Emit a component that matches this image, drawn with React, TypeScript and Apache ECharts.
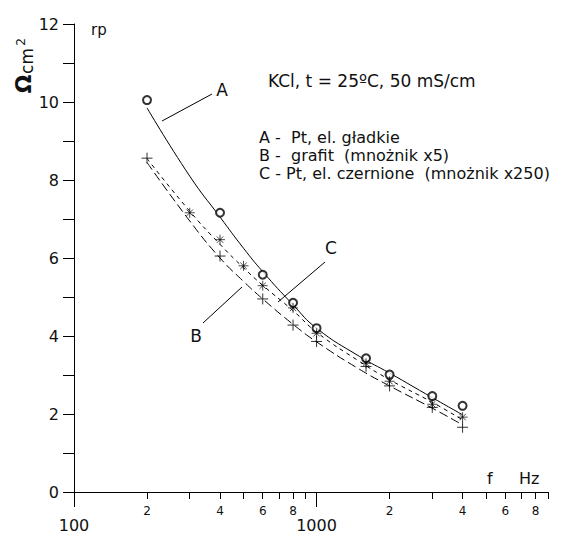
import React, { useEffect, useRef } from "react";
import * as echarts from "echarts";

// Measured points (frequency in Hz, rp in Ω·cm²)
const freqA = [200, 400, 600, 800, 1000, 1600, 2000, 3000, 4000];
const valA = [10.05, 7.16, 5.57, 4.85, 4.2, 3.43, 3.01, 2.46, 2.21];

const freqB = [200, 400, 600, 800, 1000, 1600, 2000, 3000, 4000];
const valB = [8.56, 6.05, 4.95, 4.28, 3.86, 3.22, 2.72, 2.17, 1.66];

const freqC = [300, 400, 500, 600, 800, 1000, 1600, 2000, 3000, 4000];
const valC = [7.16, 6.47, 5.8, 5.29, 4.72, 4.07, 3.3, 2.84, 2.25, 1.92];

// Fitted curves
const curveFreq = [200, 300, 400, 500, 600, 800, 1000, 1500, 2000, 3000, 4000];
const curveA = [9.85, 8.1, 7.05, 6.25, 5.65, 4.8, 4.2, 3.48, 3.05, 2.42, 1.98];
const curveB = [8.45, 6.95, 6.0, 5.4, 4.95, 4.3, 3.85, 3.15, 2.72, 2.15, 1.72];
const curveC = [8.55, 7.2, 6.35, 5.75, 5.3, 4.65, 4.1, 3.35, 2.88, 2.3, 1.85];

// Axis ticks
const xMinFreq = 100;
const xMaxFreq = 9000;
const xTickFreqs = [200, 300, 400, 500, 600, 700, 800, 900, 2000, 3000, 4000, 5000, 6000, 7000, 8000, 9000];
const xSmallLabelFreqs = [200, 400, 600, 800, 2000, 4000, 6000, 8000];
const xDecadeFreqs = [100, 1000];

// Texts
const titleText = "KCl, t = 25ºC, 50 mS/cm";
const legendLines = ["A -  Pt, el. gładkie", "B -  grafit  (mnożnik x5)", "C - Pt, el. czernione  (mnożnik x250)"];

const lg = (v: number) => Math.log10(v);
const pairs = (f: number[], v: number[]) => f.map((x, i) => [lg(x), v[i]]);

const FONT = "DejaVu Sans";
const INK = "#111";

export default function App() {
  const ref = useRef<HTMLDivElement>(null);
  useEffect(() => {
    document.body.style.margin = "0";
    const chart = echarts.init(ref.current!, null, { renderer: "svg" });
    const xBase = {
      type: "value" as const,
      min: lg(xMinFreq),
      max: lg(xMaxFreq),
      splitLine: { show: false },
      position: "bottom" as const,
    };
    const smallDigit = (v: number) => {
      const f = Math.round(Math.pow(10, v));
      const d = Math.pow(10, Math.floor(Math.log10(f) + 1e-9));
      return String(Math.round(f / d));
    };
    chart.setOption({
      animation: false,
      backgroundColor: "#fff",
      grid: { left: 74, right: 38, top: 24, bottom: 34, containLabel: false },
      xAxis: [
        {
          ...xBase,
          axisLine: { show: true, lineStyle: { color: "#000", width: 1 } },
          axisTick: {
            show: true,
            length: 7,
            customValues: xTickFreqs.map(lg),
            lineStyle: { color: "#000" },
          },
          axisLabel: {
            show: true,
            customValues: xSmallLabelFreqs.map(lg),
            formatter: smallDigit,
            fontFamily: FONT,
            fontSize: 12,
            color: INK,
            margin: 13,
          },
        },
        {
          ...xBase,
          axisLine: { show: false },
          axisTick: {
            show: true,
            length: 15,
            customValues: xDecadeFreqs.map(lg),
            lineStyle: { color: "#000" },
          },
          axisLabel: {
            show: true,
            customValues: xDecadeFreqs.map(lg),
            formatter: (v: number) => String(Math.round(Math.pow(10, v))),
            fontFamily: FONT,
            fontSize: 16,
            color: INK,
            margin: 25,
          },
        },
      ],
      yAxis: {
        type: "value",
        min: 0,
        max: 12,
        interval: 1,
        splitLine: { show: false },
        axisLine: { show: true, lineStyle: { color: "#000", width: 1 } },
        axisTick: { show: true, length: 11, lineStyle: { color: "#000" } },
        axisLabel: {
          formatter: (v: number) => (v % 2 === 0 ? String(v) : ""),
          fontFamily: FONT,
          fontSize: 16,
          color: INK,
          margin: 15,
        },
      },
      series: [
        {
          type: "line",
          data: pairs(curveFreq, curveA),
          smooth: true,
          symbol: "none",
          lineStyle: { color: "#000", width: 1, type: "solid" },
        },
        {
          type: "line",
          data: pairs(curveFreq, curveB),
          smooth: true,
          symbol: "none",
          lineStyle: { color: "#000", width: 1, type: [9, 4] },
        },
        {
          type: "line",
          data: pairs(curveFreq, curveC),
          smooth: true,
          symbol: "none",
          lineStyle: { color: "#000", width: 1, type: [4, 4] },
        },
        {
          type: "scatter",
          data: pairs(freqA, valA),
          symbol: "emptyCircle",
          symbolSize: 8,
          itemStyle: { color: "#000", borderColor: "#000", borderWidth: 0.9 },
          z: 5,
        },
        {
          type: "scatter",
          data: pairs(freqB, valB),
          symbol: "path://M0,5L10,5M5,0L5,10",
          symbolSize: 11,
          itemStyle: { color: "none", borderColor: "#000", borderWidth: 1 },
          z: 5,
        },
        {
          type: "scatter",
          data: pairs(freqC, valC),
          symbol: "path://M0,5L10,5M5,0L5,10M1.8,1.8L8.2,8.2M8.2,1.8L1.8,8.2",
          symbolSize: 10,
          itemStyle: { color: "none", borderColor: "#000", borderWidth: 0.9 },
          z: 5,
        },
      ],
      graphic: [
        // y-axis name  Ωcm²  (rotated)
        {
          type: "text",
          x: 23,
          y: 84,
          rotation: Math.PI / 2,
          style: { text: "Ω", font: `bold 22px ${FONT}`, fill: INK, align: "center", verticalAlign: "middle" },
        },
        {
          type: "text",
          x: 27,
          y: 61,
          rotation: Math.PI / 2,
          style: { text: "cm", font: `17px ${FONT}`, fill: INK, align: "center", verticalAlign: "middle" },
        },
        {
          type: "text",
          x: 21,
          y: 42,
          rotation: Math.PI / 2,
          style: { text: "2", font: `12px ${FONT}`, fill: INK, align: "center", verticalAlign: "middle" },
        },
        { type: "text", x: 91, y: 30, style: { text: "rp", font: `15px ${FONT}`, fill: INK, align: "left", verticalAlign: "middle" } },
        { type: "text", x: 487, y: 478, style: { text: "f", font: `16px ${FONT}`, fill: INK, align: "left", verticalAlign: "middle" } },
        { type: "text", x: 519, y: 478, style: { text: "Hz", font: `16px ${FONT}`, fill: INK, align: "left", verticalAlign: "middle" } },
        {
          type: "text",
          x: 268,
          y: 81,
          style: { text: titleText, font: `17px ${FONT}`, fill: INK, align: "left", verticalAlign: "middle" },
        },
        {
          type: "text",
          x: 259,
          y: 128,
          style: {
            text: legendLines.join("\n"),
            font: `16px ${FONT}`,
            lineHeight: 18,
            fill: INK,
            align: "left",
            verticalAlign: "top",
          },
        },
        // curve labels with pointers
        { type: "text", x: 222, y: 90, style: { text: "A", font: `17px ${FONT}`, fill: INK, align: "center", verticalAlign: "middle" } },
        { type: "line", shape: { x1: 162, y1: 121, x2: 212, y2: 94 }, style: { stroke: "#000", lineWidth: 1 } },
        { type: "text", x: 196, y: 336, style: { text: "B", font: `17px ${FONT}`, fill: INK, align: "center", verticalAlign: "middle" } },
        { type: "line", shape: { x1: 203, y1: 323, x2: 242, y2: 287 }, style: { stroke: "#000", lineWidth: 1 } },
        { type: "text", x: 331, y: 248, style: { text: "C", font: `17px ${FONT}`, fill: INK, align: "center", verticalAlign: "middle" } },
        { type: "line", shape: { x1: 278, y1: 302, x2: 325, y2: 262 }, style: { stroke: "#000", lineWidth: 1 } },
      ],
    });
    return () => chart.dispose();
  }, []);
  return <div ref={ref} style={{ width: 586, height: 533 }} />;
}
